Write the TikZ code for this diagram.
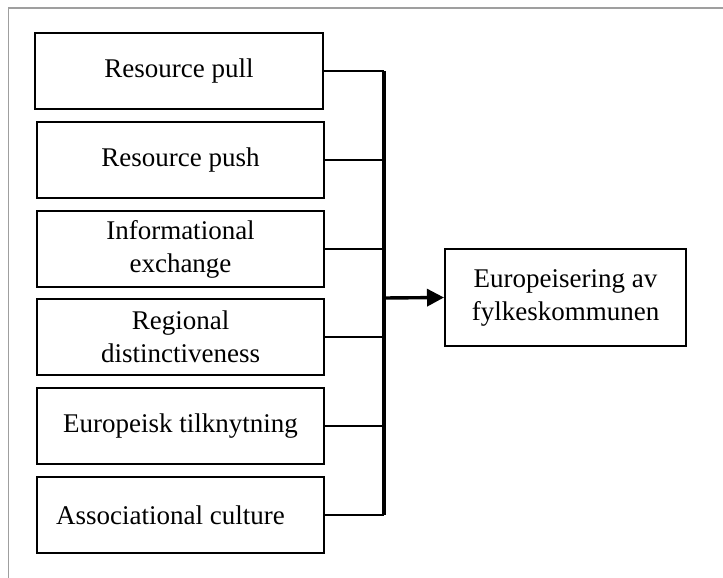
\documentclass[tikz,border=0pt]{standalone}
\usepackage{fontspec}
\setmainfont{Liberation Serif}
\usepackage{tikz}
\usetikzlibrary{arrows.meta}

\tikzset{
    factor/.style={draw,line width=2pt,minimum width=287pt,minimum height=76pt,
        align=center,inner sep=0pt,font=\fontsize{27}{33}\selectfont},
    outcome/.style={draw,line width=2pt,minimum width=241pt,minimum height=97pt,
        align=center,inner sep=0pt,font=\fontsize{27}{33}\selectfont},
    link/.style={line width=2.2pt},
}

\begin{document}
\begin{tikzpicture}[x=1pt,y=-1pt]
    \useasboundingbox (0,0) rectangle (723,578);
    % outer frame (only top and left edges visible)
    \draw[gray!75,line width=1.8pt] (723,8) -- (8.5,8) -- (8.5,578);

    \node[factor,minimum width=288pt] (r1) at (179,71) {Resource pull};
    \node[factor] (r2) at (180.5,160) {Resource push};
    \node[factor] (r3) at (180.5,249) {Informational\\exchange};
    \node[factor] (r4) at (180.5,337) {Regional\\distinctiveness};
    \node[factor] (r5) at (180.5,426) {Europeisk tilknytning};
    \node[factor] (r6) at (180.5,515) {\hspace*{-20pt}Associational culture};
    \node[outcome] (eu) at (565.5,297.5) {Europeisering av\\fylkeskommunen};

    \coordinate (bus) at (384,298);
    \foreach \i in {1,...,6}
        \draw[link] (r\i.east) -- (r\i.east -| bus);
    \draw[line width=3.2pt] (r1.east -| bus) -- (r6.east -| bus);
    \draw[line width=3.4pt,-{Triangle[length=17pt,width=17pt]}] (bus) -- (eu.west);
\end{tikzpicture}
\end{document}
